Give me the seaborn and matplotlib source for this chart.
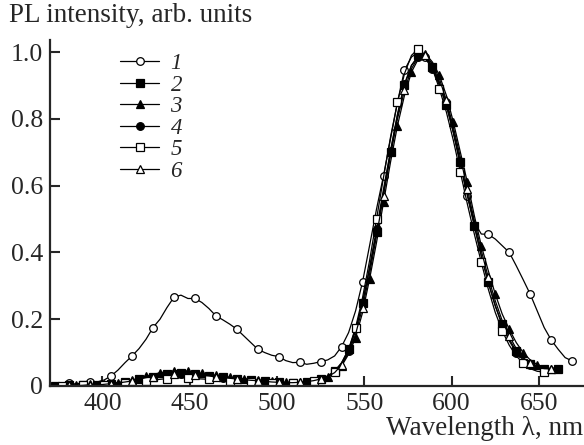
import matplotlib
matplotlib.use("Agg")
import matplotlib.pyplot as plt
from matplotlib.lines import Line2D
import seaborn as sns
import numpy as np
import pandas as pd

sns.set_style("ticks")
plt.rcParams['font.family'] = ['Liberation Serif', 'DejaVu Serif']

wavelength = list(range(369, 673, 4))  # 369 ... 669

curve1 = [0.000, 0.002, 0.004, 0.008, 0.006, 0.010, 0.013, 0.012, 0.018, 0.030,
          0.048, 0.070, 0.090, 0.112, 0.140, 0.175, 0.200, 0.235, 0.266, 0.272,
          0.262, 0.262, 0.250, 0.232, 0.210, 0.198, 0.185, 0.170, 0.150, 0.130,
          0.110, 0.100, 0.092, 0.088, 0.076, 0.070, 0.071, 0.065, 0.068, 0.073,
          0.078, 0.090, 0.118, 0.160, 0.225, 0.312, 0.420, 0.530, 0.630, 0.740,
          0.850, 0.946, 0.985, 1.000, 0.985, 0.960, 0.910, 0.850, 0.760, 0.660,
          0.570, 0.490, 0.455, 0.454, 0.440, 0.420, 0.400, 0.360, 0.318, 0.275,
          0.225, 0.175, 0.138, 0.110, 0.085, 0.075]

curve2 = [0.000, 0.000, 0.000, 0.002, 0.000, 0.003, 0.002, 0.004, 0.003, 0.006,
          0.008, 0.012, 0.015, 0.020, 0.024, 0.028, 0.032, 0.035, 0.038, 0.040,
          0.038, 0.036, 0.034, 0.030, 0.028, 0.026, 0.024, 0.022, 0.020, 0.018,
          0.016, 0.014, 0.012, 0.011, 0.010, 0.010, 0.011, 0.013, 0.016, 0.022,
          0.030, 0.045, 0.070, 0.110, 0.170, 0.250, 0.350, 0.460, 0.580, 0.700,
          0.810, 0.900, 0.960, 0.990, 0.985, 0.955, 0.905, 0.840, 0.760, 0.670,
          0.570, 0.480, 0.390, 0.310, 0.240, 0.185, 0.140, 0.105, 0.082, 0.065,
          0.055, 0.050, 0.050, 0.052]

curve3 = [0.000, 0.002, 0.000, 0.004, 0.002, 0.003, 0.005, 0.003, 0.006, 0.008,
          0.010, 0.014, 0.018, 0.024, 0.030, 0.034, 0.040, 0.042, 0.045, 0.048,
          0.044, 0.040, 0.038, 0.034, 0.032, 0.028, 0.026, 0.024, 0.022, 0.020,
          0.018, 0.016, 0.014, 0.012, 0.011, 0.012, 0.012, 0.014, 0.016, 0.020,
          0.026, 0.038, 0.060, 0.095, 0.145, 0.220, 0.320, 0.430, 0.550, 0.670,
          0.780, 0.870, 0.940, 0.980, 0.995, 0.970, 0.930, 0.870, 0.790, 0.700,
          0.610, 0.510, 0.420, 0.345, 0.275, 0.215, 0.170, 0.130, 0.100, 0.078,
          0.064, 0.056, 0.052, 0.058]

curve4 = [0.000, 0.000, 0.002, 0.000, 0.002, 0.002, 0.004, 0.003, 0.005, 0.007,
          0.010, 0.013, 0.016, 0.020, 0.024, 0.027, 0.030, 0.033, 0.035, 0.036,
          0.034, 0.033, 0.031, 0.029, 0.026, 0.025, 0.023, 0.021, 0.019, 0.017,
          0.015, 0.013, 0.012, 0.010, 0.009, 0.009, 0.010, 0.012, 0.015, 0.020,
          0.028, 0.042, 0.066, 0.105, 0.165, 0.250, 0.355, 0.470, 0.590, 0.705,
          0.815, 0.905, 0.960, 0.985, 0.980, 0.950, 0.900, 0.840, 0.760, 0.670,
          0.575, 0.480, 0.390, 0.310, 0.240, 0.180, 0.135, 0.100, 0.078, 0.062,
          0.052, 0.048, 0.048]

curve5 = [0.000, 0.000, 0.000, 0.001, 0.000, 0.002, 0.001, 0.003, 0.002, 0.004,
          0.005, 0.008, 0.010, 0.012, 0.015, 0.018, 0.020, 0.022, 0.024, 0.025,
          0.024, 0.022, 0.021, 0.020, 0.018, 0.017, 0.016, 0.015, 0.013, 0.012,
          0.011, 0.010, 0.009, 0.008, 0.008, 0.008, 0.009, 0.011, 0.014, 0.019,
          0.027, 0.042, 0.068, 0.110, 0.175, 0.265, 0.375, 0.500, 0.625, 0.745,
          0.850, 0.935, 0.990, 1.010, 0.990, 0.950, 0.890, 0.820, 0.735, 0.640,
          0.545, 0.455, 0.370, 0.290, 0.220, 0.165, 0.122, 0.090, 0.068, 0.052,
          0.044, 0.042]

curve6 = [0.000, 0.001, 0.000, 0.003, 0.001, 0.002, 0.004, 0.003, 0.005, 0.007,
          0.009, 0.012, 0.015, 0.020, 0.025, 0.028, 0.031, 0.034, 0.036, 0.038,
          0.036, 0.034, 0.032, 0.030, 0.027, 0.025, 0.023, 0.021, 0.019, 0.017,
          0.016, 0.014, 0.012, 0.011, 0.010, 0.010, 0.011, 0.013, 0.016, 0.021,
          0.028, 0.040, 0.063, 0.100, 0.155, 0.235, 0.335, 0.450, 0.570, 0.690,
          0.800, 0.885, 0.950, 0.985, 0.990, 0.965, 0.920, 0.855, 0.775, 0.685,
          0.590, 0.495, 0.405, 0.325, 0.255, 0.195, 0.150, 0.112, 0.085, 0.068,
          0.057, 0.052, 0.051]

labels = ["1", "2", "3", "4", "5", "6"]
x_ticks = [400, 450, 500, 550, 600, 650]
y_ticks = [0, 0.2, 0.4, 0.6, 0.8, 1.0]
y_tick_labels = ["0", "0.2", "0.4", "0.6", "0.8", "1.0"]

series = [curve1, curve2, curve3, curve4, curve5, curve6]
styles = [
    dict(marker="o", mfc="white", markevery=(3, 3)),
    dict(marker="s", mfc="black", markevery=(1, 2)),
    dict(marker="^", mfc="black", markevery=(0, 2)),
    dict(marker="o", mfc="black", markevery=(1, 2)),
    dict(marker="s", mfc="white", markevery=(2, 3)),
    dict(marker="^", mfc="white", markevery=(0, 3)),
]

fig = plt.figure(figsize=(5.84, 4.45), dpi=100)
ax = fig.add_axes([0.0856, 0.1326, 0.912, 0.7775])

for lab, vals, st in zip(labels, series, styles):
    df = pd.DataFrame({"wl": wavelength[:len(vals)], "pl": vals})
    sns.lineplot(data=df, x="wl", y="pl", ax=ax, color="black", lw=0.9,
                 marker=st["marker"], markersize=5.5, markerfacecolor=st["mfc"],
                 markeredgecolor="black", markeredgewidth=0.9,
                 markevery=st["markevery"], legend=False)

ax.set_xlim(370, 675)
ax.set_ylim(0, 1.036)
ax.set_xticks(x_ticks)
ax.set_xticklabels([str(t) for t in x_ticks])
ax.set_yticks(y_ticks)
ax.set_yticklabels(y_tick_labels)
ax.tick_params(direction="in", length=7, width=1.5, labelsize=18.5, pad=5)
for s in ["top", "right"]:
    ax.spines[s].set_visible(False)
for s in ["left", "bottom"]:
    ax.spines[s].set_linewidth(1.6)
ax.set_xlabel("")
ax.set_ylabel("")

fig.text(0.015, 0.966, "PL intensity, arb. units", fontsize=19.5, ha="left", va="center")
fig.text(0.998, 0.036, "Wavelength λ, nm", fontsize=19.5, ha="right", va="center")

handles = []
for lab, st in zip(labels, styles):
    handles.append(Line2D([0], [0], color="black", lw=0.9, marker=st["marker"],
                          markersize=5.5, markerfacecolor=st["mfc"],
                          markeredgecolor="black", markeredgewidth=0.9))
ax.legend(handles, labels, loc="upper left", bbox_to_anchor=(0.1316, 0.962),
          frameon=False, handlelength=1.7, handletextpad=0.5, labelspacing=0.02,
          borderpad=0.0, borderaxespad=0.0,
          prop=dict(family="Liberation Serif", style="italic", size=16.5), numpoints=1)

fig.savefig("out.png", dpi=100)
